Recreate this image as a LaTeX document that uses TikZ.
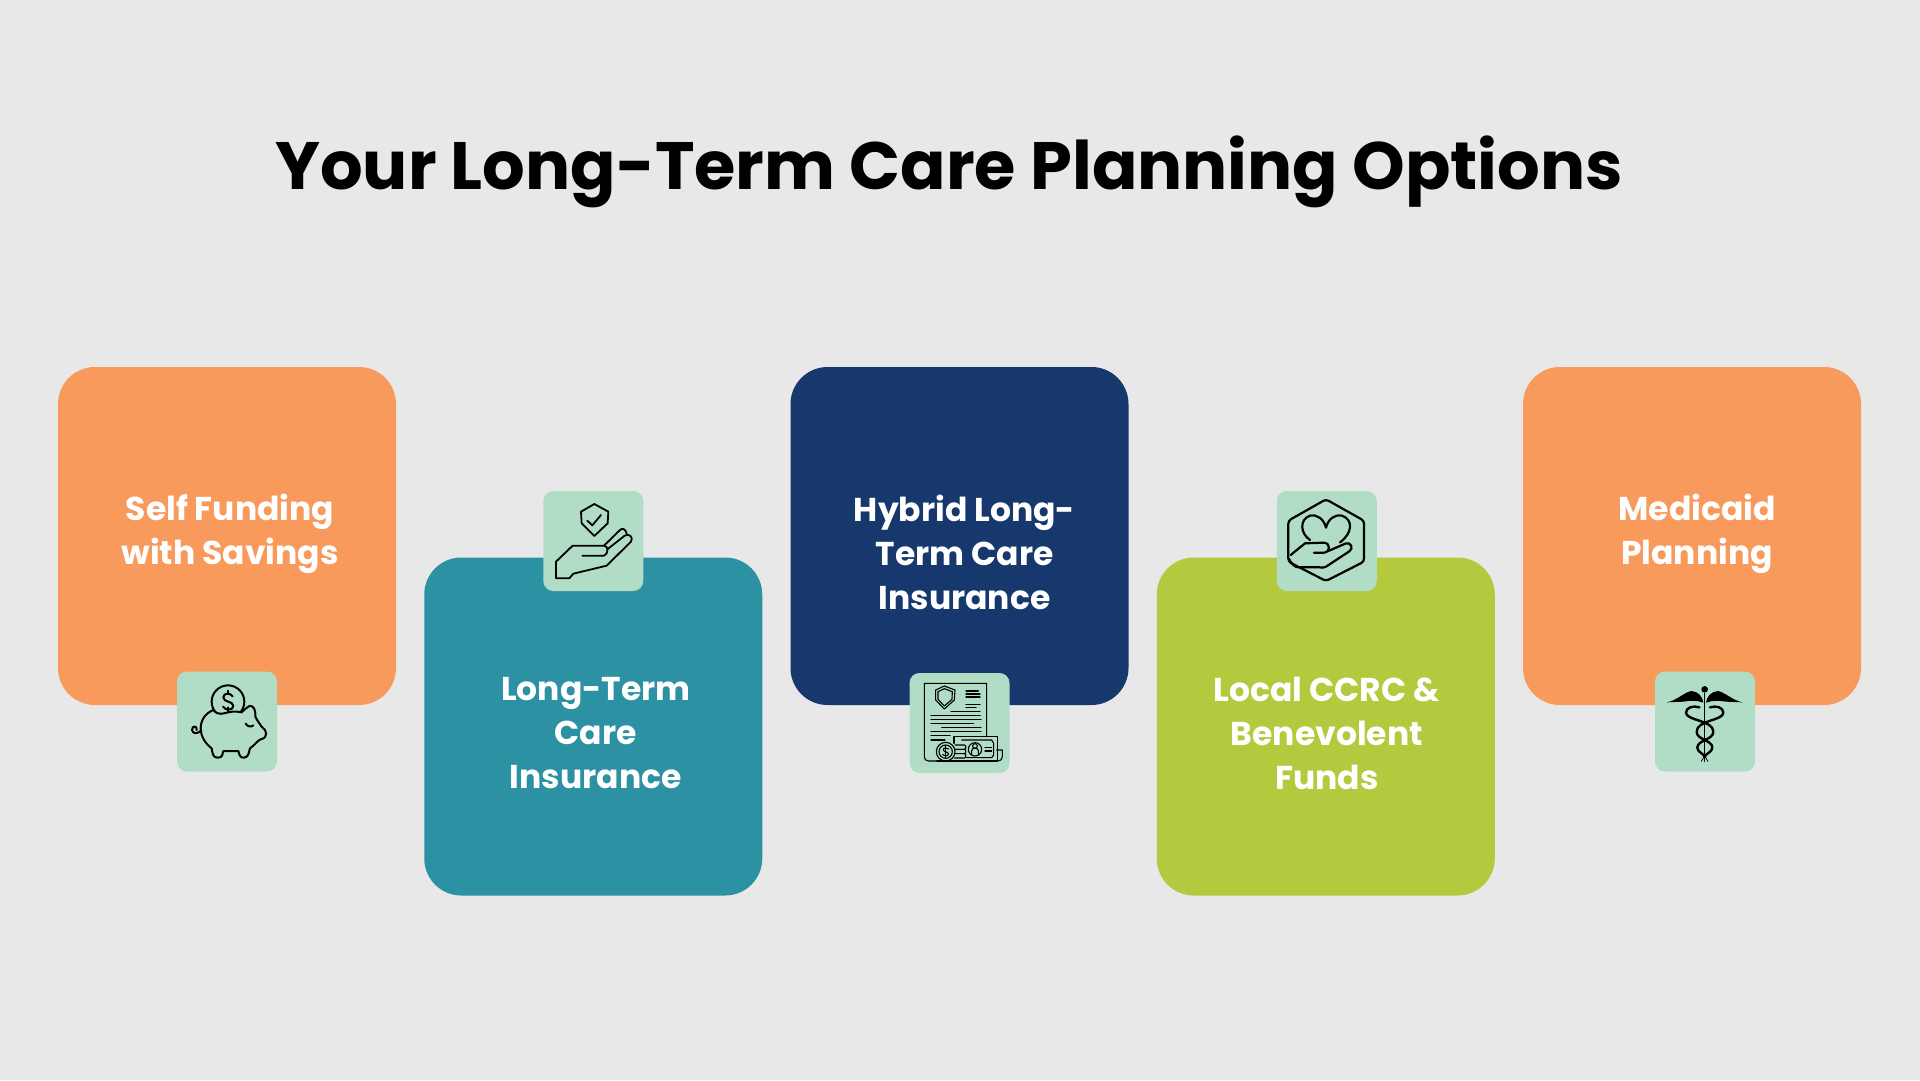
\documentclass[tikz,border=0pt]{standalone}
\usepackage{fontspec}
\setmainfont{Poppins}
\usetikzlibrary{positioning}
\definecolor{pagebg}{HTML}{E8E8E8}
\definecolor{cardorange}{HTML}{F89A5B}
\definecolor{cardteal}{HTML}{2C91A3}
\definecolor{cardnavy}{HTML}{16386D}
\definecolor{cardlime}{HTML}{B5C93E}
\definecolor{iconmint}{HTML}{B1DDC7}
\begin{document}
\begin{tikzpicture}[x=1pt,y=-1pt,
    card/.style={minimum size=338pt,inner sep=0pt,outer sep=0pt,rounded corners=37pt},
    cardtext/.style={text=white,align=center,font=\fontsize{33}{44}\selectfont\bfseries},
    iconbox/.style={fill=iconmint,minimum size=100pt,inner sep=0pt,outer sep=0pt,rounded corners=10pt},
    iconart/.style={x=0.3333pt,y=-0.3333pt,line width=2pt,line cap=round,line join=round}]
  \fill[pagebg] (0,0) rectangle (1920,1080);
  \node[font=\fontsize{67}{74}\selectfont\bfseries] (title) at (949,171.5) {Your Long-Term Care Planning Options};

  \node[card,fill=cardorange] (card1) at (227,536) {};
  \node[card,fill=cardteal]   (card2) [right=28.25pt of card1,yshift=-190.5pt] {};
  \node[card,fill=cardnavy]   (card3) [right=28.25pt of card2,yshift=190.5pt] {};
  \node[card,fill=cardlime]   (card4) [right=28.25pt of card3,yshift=-190.5pt] {};
  \node[card,fill=cardorange] (card5) [right=28.25pt of card4,yshift=190.5pt] {};

  \node[cardtext] (text1) at ([xshift=3pt,yshift=2.5pt]card1.center) {Self Funding\\with Savings};
  \node[cardtext] (text2) at ([xshift=2.5pt,yshift=-7pt]card2.center) {Long-Term\\Care\\Insurance};
  \node[cardtext] (text3) at ([xshift=5pt,yshift=-16pt]card3.center) {Hybrid Long-\\Term Care\\Insurance};
  \node[cardtext] (text4) at ([xshift=1pt,yshift=-7pt]card4.center) {Local CCRC \&\\Benevolent\\Funds};
  \node[cardtext] (text5) at ([xshift=5pt,yshift=2.5pt]card5.center) {Medicaid\\Planning};

  \node[iconbox] (iconpig)    at ([yshift=-16.5pt]card1.south) {};
  \node[iconbox] (iconshield) at ([yshift=16.5pt]card2.north) {};
  \node[iconbox] (icondoc)    at ([yshift=-18pt]card3.south) {};
  \node[iconbox] (iconheart)  at ([xshift=1pt,yshift=16.5pt]card4.north) {};
  \node[iconbox] (iconstaff)  at ([xshift=13pt,yshift=-16.5pt]card5.south) {};

  \begin{scope}[shift={(160,650)},iconart]
    \draw (204,155) circle (49);
    \draw (218,139) .. controls (212,128) and (190,128) .. (190,142)
      .. controls (190,158) and (220,152) .. (220,168)
      .. controls (220,182) and (196,182) .. (189,170);
    \draw (204,122) -- (204,130) (204,178) -- (204,186);
    \draw[fill=iconmint] (160,180) .. controls (135,190) and (122,212) .. (122,235)
      .. controls (122,258) and (135,280) .. (155,295)
      .. controls (158,310) and (158,322) .. (172,323)
      .. controls (188,324) and (188,312) .. (190,303) -- (235,303)
      .. controls (238,314) and (240,324) .. (252,323)
      .. controls (266,322) and (266,308) .. (270,295)
      .. controls (285,285) and (292,272) .. (302,268)
      .. controls (325,264) and (322,240) .. (305,230)
      .. controls (298,220) and (292,212) .. (286,200)
      .. controls (288,180) and (280,165) .. (268,168)
      .. controls (258,172) and (252,182) .. (245,187)
      .. controls (230,184) and (218,184) .. (204,187)
      .. controls (190,190) and (175,198) .. (160,180);
    \draw (204,186) -- (204,172);
    \draw (122,243) .. controls (112,252) and (98,252) .. (96,240)
      .. controls (96,226) and (112,226) .. (110,240);
    \draw (257,221) .. controls (262,230) and (274,232) .. (280,226);
  \end{scope}

  \begin{scope}[shift={(530,480)},iconart,line width=1.8pt]
    \draw (193,72) -- (235,95) -- (233,130) -- (193,168) -- (155,130) -- (153,95) -- cycle;
    \draw (172,122) -- (187,136) -- (213,105);
    \draw (157,227) -- (222,227) .. controls (236,222) and (236,197) .. (222,197) -- (128,197)
      -- (78,245) -- (78,295) -- (118,295) -- (130,281) -- (230,257) -- (303,185)
      .. controls (312,172) and (296,158) .. (284,167) -- (232,208);
    \draw (222,197) -- (268,152) .. controls (276,142) and (286,146) .. (290,160);
  \end{scope}

  \begin{scope}[shift={(895,660)},iconart,line width=1.1pt]
    \draw (125,303) -- (100,303) .. controls (92,303) and (88,297) .. (88,290)
      -- (88,70) -- (275,70) -- (275,228);
    \draw (148,78) -- (180,90) -- (178,120) -- (148,147) -- (122,120) -- (122,90) -- cycle;
    \draw (148,86) -- (172,95) -- (171,118) -- (148,138) -- (129,118) -- (129,95) -- cycle;
    \draw (213,93) -- (250,93) (213,102) -- (255,102) (213,111) -- (255,111)
      (213,133) -- (255,133) (213,143) -- (243,143) (168,155) -- (255,155)
      (108,166) -- (255,166) (108,178) -- (258,178) (108,190) -- (235,190)
      (140,203) -- (258,203) (108,215) -- (258,215) (108,227) -- (165,227) (108,240) -- (150,240);
    \draw[fill=iconmint] (177,250) -- (177,230) -- (307,230) -- (307,303) -- (177,303);
    \draw (305,270) -- (322,270) -- (322,290) .. controls (322,298) and (316,303) .. (310,303);
    \draw (200,240) -- (290,240) -- (296,250) -- (296,285) -- (290,293) -- (215,293);
    \draw (240,268) circle (20);
    \draw (230,284) -- (230,272) .. controls (230,262) and (250,262) .. (250,272) -- (250,284);
    \draw (240,258) circle (7);
    \draw (270,263) -- (290,263) (270,273) -- (290,273);
    \draw[fill=iconmint] (180,255) -- (208,255) .. controls (214,255) and (214,268) .. (208,268) -- (180,268);
    \draw[fill=iconmint] (180,268) -- (208,268) .. controls (214,268) and (214,281) .. (208,281) -- (180,281);
    \draw[fill=iconmint] (180,281) -- (208,281) .. controls (214,281) and (214,294) .. (208,294) -- (178,294);
    \draw[fill=iconmint] (152,275) circle (28);
    \draw (152,275) circle (20);
    \draw (161,267) .. controls (156,261) and (144,263) .. (145,270)
      .. controls (146,277) and (160,274) .. (160,282) .. controls (160,289) and (148,290) .. (143,284);
    \draw (152,258) -- (152,292);
    \draw (125,303) -- (215,303);
  \end{scope}

  \begin{scope}[shift={(1260,480)},iconart,line width=2.2pt]
    \draw[rounded corners=3pt] (198,58) -- (312,122) -- (312,245) -- (198,303) -- (85,245) -- (85,122) -- cycle;
    \draw (150,180) .. controls (120,160) and (118,118) .. (150,107)
      .. controls (172,102) and (192,118) .. (198,143)
      .. controls (204,118) and (224,102) .. (246,107)
      .. controls (280,118) and (278,160) .. (240,187);
    \draw (92,225) -- (135,190) -- (192,188) .. controls (212,190) and (212,216) .. (192,218) -- (162,218);
    \draw (205,213) -- (258,190) .. controls (272,186) and (282,205) .. (268,214)
      -- (198,260) .. controls (192,264) and (186,263) .. (178,262) -- (115,262)
      .. controls (105,262) and (95,252) .. (86,236);
  \end{scope}

  \begin{scope}[shift={(1640,660)},iconart,line width=2.4pt]
    \fill (194,88) circle (10);
    \draw[line width=1.5pt,line cap=butt] (194,98) -- (194,305);
    \fill (80,127) .. controls (110,122) and (135,95) .. (155,93)
      .. controls (175,95) and (188,110) .. (190,128)
      .. controls (170,120) and (150,122) .. (130,125) -- cycle;
    \fill (308,127) .. controls (278,122) and (253,95) .. (233,93)
      .. controls (213,95) and (200,110) .. (198,128)
      .. controls (218,120) and (238,122) .. (258,125) -- cycle;
    \draw (178,142) .. controls (160,136) and (138,142) .. (138,158)
      .. controls (138,182) and (220,180) .. (220,215)
      .. controls (220,240) and (172,240) .. (172,263)
      .. controls (172,276) and (190,280) .. (194,290);
    \draw (210,142) .. controls (228,136) and (250,142) .. (250,158)
      .. controls (250,182) and (170,180) .. (170,215)
      .. controls (170,240) and (217,240) .. (217,263)
      .. controls (217,276) and (198,280) .. (194,290);
    \draw[line width=0.8pt] (194,288) -- (184,304) (194,288) -- (204,304);
  \end{scope}
\end{tikzpicture}
\end{document}
